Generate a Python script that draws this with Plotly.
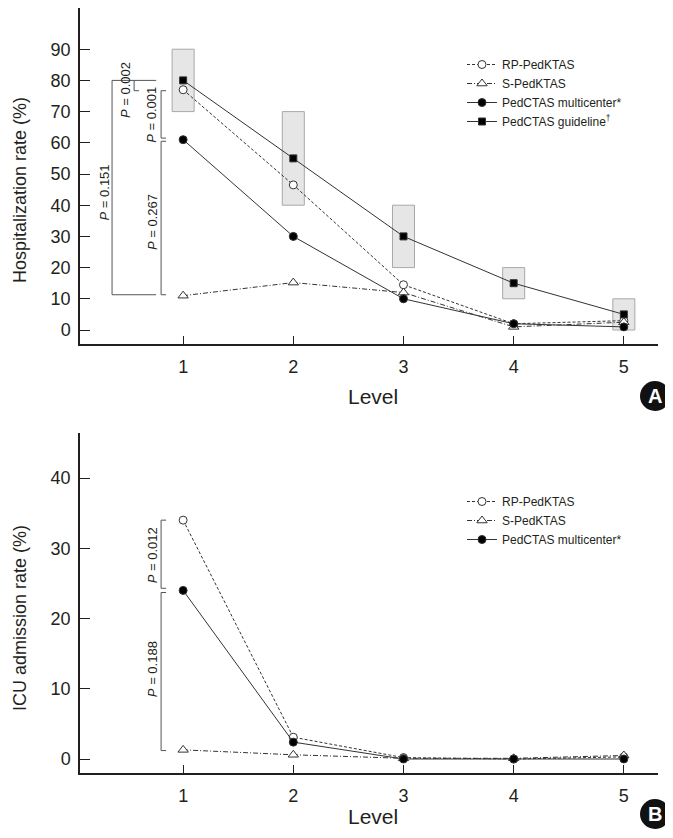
import plotly.graph_objects as go

levels = [1, 2, 3, 4, 5]
# Panel A: hospitalization rate (%)
hosp_rp = [77, 46.5, 14.5, 2, 3]
hosp_s = [11, 15.2, 12, 1, 2.5]
hosp_multi = [61, 30, 10, 2, 1]
hosp_guide = [80, 55, 30, 15, 5]
guide_low = [70, 40, 20, 10, 0]
guide_high = [90, 70, 40, 20, 10]
# Panel B: ICU admission rate (%)
icu_rp = [34, 3.1, 0.2, 0.0, 0.3]
icu_s = [1.3, 0.6, 0.1, 0.1, 0.5]
icu_multi = [24, 2.4, 0.0, 0.0, 0.0]

p_top = ["0.002", "0.001", "0.267", "0.151"]
p_bot = ["0.012", "0.188"]

FONT = "Liberation Sans, Arial, sans-serif"
INK = "#231f20"
LINE = "#333333"
OFF = 8  # page body margin
W, H = 673 - OFF, 838 - 2 * OFF
X0, X1 = 80, 658      # plot area left/right in page pixels
Y0, Y1 = 8, 773       # plot area top/bottom in page pixels
ML, MR, MT, MB = X0 - OFF, OFF + W - X1, Y0 - OFF, OFF + H - Y1
PW, PH = X1 - X0, Y1 - Y0


def px_x(p):
    return (p - X0) / PW


def px_y(p):
    return (Y1 - p) / PH


fig = go.Figure()


def add_series(x, y, name, symbol, fill, dash, xa, ya, legend, size=8):
    fig.add_trace(go.Scatter(
        x=x, y=y, name=name, mode="lines+markers",
        line=dict(color=LINE, width=1, dash=dash),
        marker=dict(symbol=symbol, size=size, color=fill,
                    line=dict(color=LINE, width=1)),
        xaxis=xa, yaxis=ya, legend=legend))


# top panel
add_series(levels, hosp_rp, "RP-PedKTAS", "circle", "white", "3px,2px", "x", "y", "legend")
add_series(levels, hosp_s, "S-PedKTAS", "triangle-up", "white", "5px,2px,1px,2px", "x", "y", "legend", 9)
add_series(levels, hosp_multi, "PedCTAS multicenter*", "circle", "black", "solid", "x", "y", "legend")
add_series(levels, hosp_guide, "PedCTAS guideline<sup>†</sup>", "square", "black", "solid", "x", "y", "legend", 7)
# bottom panel
add_series(levels, icu_rp, "RP-PedKTAS", "circle", "white", "3px,2px", "x2", "y2", "legend2")
add_series(levels, icu_s, "S-PedKTAS", "triangle-up", "white", "5px,2px,1px,2px", "x2", "y2", "legend2", 9)
add_series(levels, icu_multi, "PedCTAS multicenter*", "circle", "black", "solid", "x2", "y2", "legend2")

shapes = []
# guideline range boxes
for lv, lo, hi in zip(levels, guide_low, guide_high):
    shapes.append(dict(type="rect", xref="x", yref="y", x0=lv - 0.1, x1=lv + 0.1,
                       y0=lo, y1=hi, fillcolor="#e6e6e6",
                       line=dict(color="#a8a8a8", width=1), layer="below"))

BR = dict(color="#555555", width=1)


def bracket(xa, ya, xv, y0, y1, arm):
    shapes.append(dict(type="path", xref=xa, yref=ya,
                       path=f"M {xv+arm},{y0} L {xv},{y0} L {xv},{y1} L {xv+arm},{y1}",
                       line=BR))


# top brackets
bracket("x", "y", 0.355, hosp_guide[0], hosp_s[0] + 0.3, 0.40)
shapes.append(dict(type="path", xref="x", yref="y",
                   path=f"M 0.555,{hosp_guide[0]} L 0.555,{hosp_rp[0]-0.3} L 0.6,{hosp_rp[0]-0.3}",
                   line=BR))
bracket("x", "y", 0.80, hosp_rp[0] - 0.3, hosp_multi[0] + 0.5, 0.045)
bracket("x", "y", 0.80, hosp_multi[0] - 0.5, hosp_s[0] + 0.3, 0.045)
# bottom brackets
bracket("x2", "y2", 0.80, icu_rp[0], icu_multi[0] + 0.3, 0.045)
bracket("x2", "y2", 0.80, icu_multi[0] - 0.3, icu_s[0] - 0.1, 0.045)

annotations = []


def ann(**kw):
    kw.setdefault("xanchor", "center")
    kw.setdefault("yanchor", "middle")
    kw.setdefault("showarrow", False)
    annotations.append(kw)


def ptext(xa, ya, x, y, val):
    ann(xref=xa, yref=ya, x=x, y=y, text=f"<i>P</i> = {val}", textangle=-90,
        font=dict(family=FONT, size=13, color=INK))


ptext("x", "y", 0.475, 77, p_top[0])
ptext("x", "y", 0.718, 69, p_top[1])
ptext("x", "y", 0.718, 34.6, p_top[2])
ptext("x", "y", 0.285, 44.2, p_top[3])
ptext("x2", "y2", 0.718, 29.0, p_bot[0])
ptext("x2", "y2", 0.718, 12.8, p_bot[1])

# panel badges
for label, cy in (("A", 396), ("B", 814)):
    cx, r = 655, 15
    shapes.append(dict(type="circle", xref="paper", yref="paper",
                       x0=px_x(cx - r), x1=px_x(cx + r), y0=px_y(cy + r), y1=px_y(cy - r),
                       fillcolor="#111111", line=dict(color="#111111", width=0)))
    ann(xref="paper", yref="paper", x=px_x(cx), y=px_y(cy),
        text=f"<b>{label}</b>", font=dict(family=FONT, size=20, color="white"))

# axis titles as annotations (positions fixed in page pixels)
for txt, cy in (("Level", 396), ("Level", 816)):
    ann(xref="paper", yref="paper", x=px_x(373), y=px_y(cy), text=txt,
        font=dict(family=FONT, size=21, color=INK))
for txt, cy in (("Hospitalization rate (%)", 190), ("ICU admission rate (%)", 618)):
    ann(xref="paper", yref="paper", x=px_x(20), y=px_y(cy), text=txt, textangle=-90,
        font=dict(family=FONT, size=18, color=INK))

axis_common = dict(showline=True, linecolor=INK, linewidth=1.5, showgrid=False,
                   zeroline=False, ticks="inside", tickcolor=INK, automargin=False,
                   tickfont=dict(family=FONT, size=18, color=INK))

# top panel: 0 at page y 330, 10 units = 31.2 px; bottom panel: 0 at 759, 10 units = 70.25 px
top_lo, top_hi = (330 - 344) / 3.12, (330 - Y0) / 3.12
bot_lo, bot_hi = (759 - 773) / 7.025, (759 - 433) / 7.025

fig.update_layout(
    width=W, height=H, margin=dict(l=ML, r=MR, t=MT, b=MB, autoexpand=False),
    paper_bgcolor="white", plot_bgcolor="white",
    showlegend=True,
    xaxis=dict(**axis_common, domain=[0, 1], anchor="y",
               range=[0.064, 5.31], tickvals=levels, ticklen=8, ticklabelstandoff=6),
    yaxis=dict(**axis_common, domain=[px_y(344), 1], anchor="x",
               range=[top_lo, top_hi], tickvals=list(range(0, 100, 10)), ticklen=10,
               ticklabelstandoff=4),
    xaxis2=dict(**axis_common, domain=[0, 1], anchor="y2",
                range=[0.064, 5.31], tickvals=levels, ticklen=8, ticklabelstandoff=6),
    yaxis2=dict(**axis_common, domain=[0, px_y(433)], anchor="x2",
                range=[bot_lo, bot_hi], tickvals=[0, 10, 20, 30, 40], ticklen=10,
                ticklabelstandoff=4),
    legend=dict(x=px_x(462), y=px_y(50), xanchor="left", yanchor="top",
                bgcolor="rgba(0,0,0,0)", font=dict(family=FONT, size=12, color=INK),
                tracegroupgap=0, itemwidth=30),
    legend2=dict(x=px_x(462), y=px_y(487), xanchor="left", yanchor="top",
                 bgcolor="rgba(0,0,0,0)", font=dict(family=FONT, size=12, color=INK),
                 tracegroupgap=0, itemwidth=30),
    shapes=shapes, annotations=annotations,
)

fig.write_html("out.html")
